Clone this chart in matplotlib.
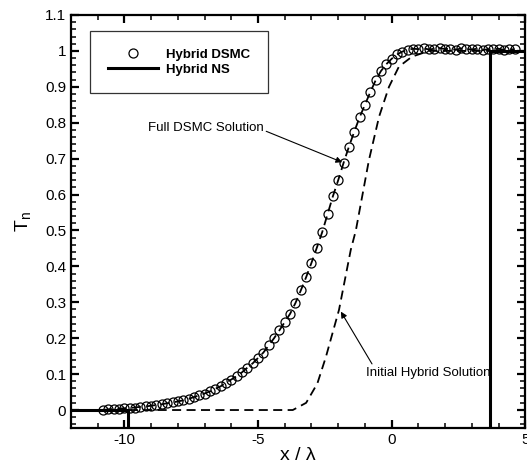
import matplotlib
matplotlib.use("Agg")
from matplotlib import pyplot as plt
from matplotlib.ticker import MultipleLocator

plt.rcParams['font.family'] = ['Liberation Sans', 'DejaVu Sans']
plt.rcParams['axes.unicode_minus'] = False

# Hybrid DSMC (circles) / full DSMC solution
dsmc_x = [-10.8, -10.6, -10.4, -10.2, -10.0, -9.8, -9.6, -9.4, -9.2, -9.0,
          -8.8, -8.6, -8.4, -8.2, -8.0, -7.8, -7.6, -7.4, -7.2, -7.0,
          -6.8, -6.6, -6.4, -6.2, -6.0, -5.8, -5.6, -5.4, -5.2, -5.0,
          -4.8, -4.6, -4.4, -4.2, -4.0, -3.8, -3.6, -3.4, -3.2, -3.0,
          -2.8, -2.6, -2.4, -2.2, -2.0, -1.8, -1.6, -1.4, -1.2, -1.0,
          -0.8, -0.6, -0.4, -0.2, 0.0, 0.2, 0.4, 0.6, 0.8, 1.0,
          1.2, 1.4, 1.6, 1.8, 2.0, 2.2, 2.4, 2.6, 2.8, 3.0,
          3.2, 3.4, 3.6, 3.8, 4.0, 4.2, 4.4, 4.6]
dsmc_t = [0.000, 0.002, 0.003, 0.004, 0.005, 0.006, 0.007, 0.009, 0.010, 0.012,
          0.014, 0.016, 0.019, 0.021, 0.024, 0.027, 0.031, 0.036, 0.041, 0.046,
          0.052, 0.059, 0.066, 0.076, 0.085, 0.094, 0.105, 0.118, 0.130, 0.145,
          0.160, 0.180, 0.200, 0.222, 0.245, 0.268, 0.298, 0.333, 0.370, 0.410,
          0.452, 0.495, 0.545, 0.595, 0.640, 0.688, 0.733, 0.775, 0.815, 0.850,
          0.885, 0.918, 0.944, 0.963, 0.978, 0.990, 0.998, 1.003, 1.006, 1.005,
          1.007, 1.004, 1.006, 1.008, 1.005, 1.006, 1.003, 1.007, 1.005, 1.004,
          1.006, 1.002, 1.005, 1.004, 1.006, 1.003, 1.005, 1.004]

# initial hybrid solution (dashed)
init_x = [-12.0, -3.7, -3.2, -2.78, -2.46, -1.97, -1.53, -1.34, -0.85, -0.47,
          -0.1, 0.27, 0.76, 1.4, 5.0]
init_t = [0.0, 0.0, 0.02, 0.074, 0.148, 0.279, 0.446, 0.50, 0.696, 0.817,
          0.90, 0.956, 0.984, 1.0, 1.0]

# hybrid NS (solid), middle part lies below the axis
ns_x = [-12.0, -9.87, -9.87, 3.67, 3.67, 5.0]
ns_t = [0.0, 0.0, -0.3, -0.3, 1.0, 1.0]

fig = plt.figure(figsize=(5.27, 4.7), dpi=100)
ax = fig.add_axes([0.1347, 0.0894, 0.862, 0.8787])

ax.plot(init_x, init_t, color='k', lw=1.3, linestyle=(0, (5, 3)))
ax.plot(dsmc_x, dsmc_t, color='k', lw=1.3, linestyle=(0, (5, 3)))
ax.plot(dsmc_x, dsmc_t, 'o', ms=6.5, mfc='none', mec='k', mew=0.9,
        label='Hybrid DSMC')
ax.plot(ns_x, ns_t, color='k', lw=2.2, label='Hybrid NS')

ax.set_xlim(-12, 5)
ax.set_ylim(-0.05, 1.1)
ax.xaxis.set_major_locator(MultipleLocator(5))
ax.xaxis.set_minor_locator(MultipleLocator(1))
ax.yaxis.set_minor_locator(MultipleLocator(0.02))
ax.set_yticks([0, 0.1, 0.2, 0.3, 0.4, 0.5, 0.6, 0.7, 0.8, 0.9, 1.0, 1.1])
ax.set_yticklabels(['0', '0.1', '0.2', '0.3', '0.4', '0.5', '0.6', '0.7',
                    '0.8', '0.9', '1', '1.1'])
ax.tick_params(which='both', direction='in', top=True, right=True,
               labelsize=11)
ax.tick_params(which='major', length=6, width=1.6)
ax.tick_params(which='minor', length=3.5, width=1.1)
for s in ax.spines.values():
    s.set_linewidth(1.6)

ax.set_xlabel('x / λ', fontsize=14, labelpad=0)
ax.set_ylabel('T$_\\mathregular{n}$', fontsize=14, labelpad=8)

ax.annotate('Full DSMC Solution', xy=(-1.85, 0.69), xytext=(-9.13, 0.786),
            fontsize=9.5, va='center',
            arrowprops=dict(arrowstyle='-|>', color='k', lw=0.8,
                            shrinkA=0, shrinkB=0, mutation_scale=9,
                            relpos=(1.0, 0.3)))
ax.annotate('Initial Hybrid Solution', xy=(-1.9, 0.274), xytext=(-0.96, 0.104),
            fontsize=9.5, va='center',
            arrowprops=dict(arrowstyle='-|>', color='k', lw=0.8,
                            shrinkA=0, shrinkB=0, mutation_scale=9,
                            relpos=(0.05, 1.2)))

leg = ax.legend(loc='upper left', bbox_to_anchor=(0.028, 0.978), frameon=True,
                fancybox=False, edgecolor='k', borderpad=1.35,
                handlelength=3.8, handletextpad=0.6, labelspacing=0.2,
                prop={'weight': 'bold', 'size': 9.5})
leg.get_frame().set_linewidth(0.9)

fig.savefig('out.png', dpi=100)
